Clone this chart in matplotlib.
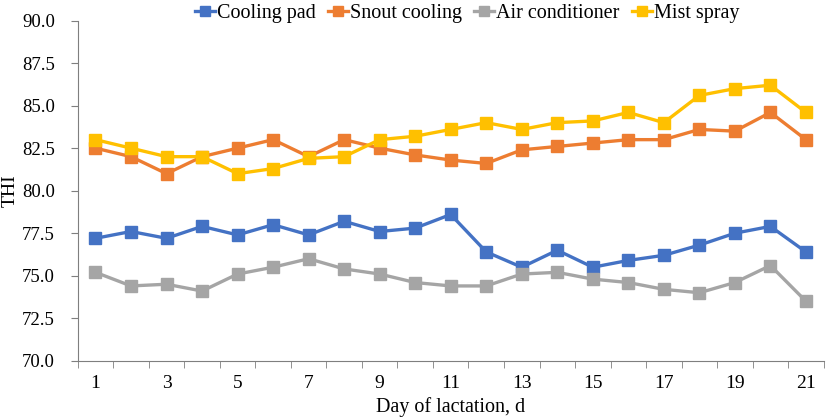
import matplotlib.pyplot as plt
from matplotlib.ticker import FormatStrFormatter

plt.rcParams['font.family'] = ['Liberation Serif', 'DejaVu Serif']

# Dane
days = list(range(1, 22))
cooling_pad = [77.2, 77.6, 77.2, 77.9, 77.4, 78.0, 77.4, 78.2, 77.6, 77.8, 78.6,
               76.4, 75.5, 76.5, 75.5, 75.9, 76.2, 76.8, 77.5, 77.9, 76.4]
snout_cooling = [82.5, 82.0, 81.0, 82.0, 82.5, 83.0, 82.0, 83.0, 82.5, 82.1, 81.8,
                 81.6, 82.4, 82.6, 82.8, 83.0, 83.0, 83.6, 83.5, 84.6, 83.0]
air_conditioner = [75.2, 74.4, 74.5, 74.1, 75.1, 75.5, 76.0, 75.4, 75.1, 74.6, 74.4,
                   74.4, 75.1, 75.2, 74.8, 74.6, 74.2, 74.0, 74.6, 75.6, 73.5]
mist_spray = [83.0, 82.5, 82.0, 82.0, 81.0, 81.3, 81.9, 82.0, 83.0, 83.2, 83.6,
              84.0, 83.6, 84.0, 84.1, 84.6, 84.0, 85.6, 86.0, 86.2, 84.6]

fig = plt.figure(figsize=(8.27, 4.2), dpi=100)
ax = fig.add_axes([0.094, 0.141, 0.902, 0.810])

series = [
    ("Cooling pad", cooling_pad, "#4472C4"),
    ("Snout cooling", snout_cooling, "#ED7D31"),
    ("Air conditioner", air_conditioner, "#A5A5A5"),
    ("Mist spray", mist_spray, "#FFC000"),
]
for name, vals, col in series:
    ax.plot(days, vals, color=col, lw=2.4, marker='s', markersize=8, label=name)

ax.set_xlim(0.5, 21.5)
ax.set_ylim(70, 90)
ax.set_yticks([70 + 2.5 * i for i in range(9)])
ax.yaxis.set_major_formatter(FormatStrFormatter('%.1f'))

# etykiety co drugi dzień, kreski między kategoriami
ax.set_xticks(days[::2])
ax.set_xticks([d + 0.5 for d in range(0, 22)], minor=True)
ax.tick_params(axis='x', which='major', length=0, pad=10, labelsize=14)
ax.tick_params(axis='x', which='minor', length=5, color='#7f7f7f')
ax.tick_params(axis='y', length=5, color='#7f7f7f', labelsize=13.5, pad=11.5)

for s in ['top', 'right']:
    ax.spines[s].set_visible(False)
for s in ['left', 'bottom']:
    ax.spines[s].set_color('#7f7f7f')

ax.set_xlabel("Day of lactation, d", fontsize=14.5, labelpad=4)
ax.set_ylabel("THI", fontsize=14)
ax.yaxis.set_label_coords(-0.079, 0.5)

fig.legend(loc='center', bbox_to_anchor=(0.565, 0.968), ncol=4, frameon=False,
           fontsize=14.5, handlelength=1.0, handletextpad=0.1, columnspacing=0.6,
           markerscale=0.9)

plt.savefig("out.png", dpi=100)
